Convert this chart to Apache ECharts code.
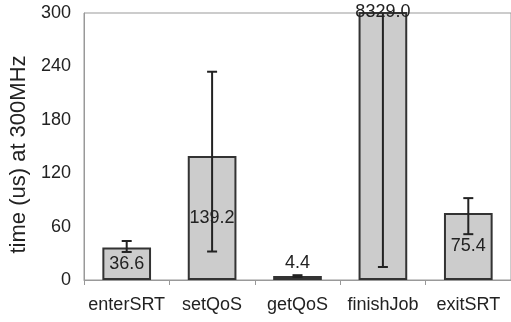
<!DOCTYPE html>
<html><head><meta charset="utf-8">
<script src="https://cdn.jsdelivr.net/npm/echarts@6/dist/echarts.min.js"></script>
<style>html,body{margin:0;padding:0;background:#fff}#c{width:511px;height:322px}</style>
</head><body><div id="c"></div>
<script>
const categories = ['enterSRT', 'setQoS', 'getQoS', 'finishJob', 'exitSRT'];
const values = [36.6, 139.2, 4.4, 8329.0, 75.4];
const errLow = [31.5, 32, 3.4, 14.6, 51.5];
const errHigh = [43.8, 234, 5.4, 16000, 92];
const yTicks = [0, 60, 120, 180, 240, 300];

const font = 'Liberation Sans, Arial, sans-serif';
const chart = echarts.init(document.getElementById('c'));
const barData = values.map((v, i) => {
  const d = { value: v };
  if (i === 2) d.label = { position: 'top', distance: 4 };
  if (i === 3) d.label = { position: ['50%', 0], align: 'center', verticalAlign: 'middle' };
  return d;
});
chart.setOption({
  animation: false,
  grid: { left: 83, top: 13, right: -2, bottom: 42, show: true, borderColor: '#999', borderWidth: 1 },
  xAxis: {
    type: 'category', data: categories,
    axisLine: { lineStyle: { color: '#999', width: 1 } },
    axisTick: { show: true, length: 5, lineStyle: { color: '#999' } },
    axisLabel: { color: '#222', fontSize: 18, fontFamily: font, margin: 16, interval: 0 }
  },
  yAxis: {
    type: 'value', min: yTicks[0], max: yTicks[yTicks.length - 1], interval: 60,
    name: 'time (us) at 300MHz', nameLocation: 'middle', nameGap: 54,
    nameTextStyle: { color: '#222', fontSize: 22, fontFamily: font, padding: [0, 16, 0, 0] },
    axisLine: { show: true, lineStyle: { color: '#999' } },
    axisTick: { show: false },
    splitLine: { show: false },
    axisLabel: { color: '#222', fontSize: 18, fontFamily: font, margin: 13 }
  },
  series: [{
    type: 'bar', data: barData, barWidth: '57%', clip: true,
    itemStyle: { color: '#cccccc', borderColor: '#333', borderWidth: 2 },
    label: { show: true, position: 'inside', color: '#222', fontSize: 18, fontFamily: font,
      formatter: p => p.value.toFixed(1) }
  }, {
    type: 'custom', clip: true, z: 5,
    data: categories.map((c, i) => [i, errLow[i], errHigh[i]]),
    renderItem: function (params, api) {
      const x = api.value(0);
      const lo = api.coord([x, api.value(1)]);
      const hi = api.coord([x, api.value(2)]);
      const hw = 5;
      const st = { stroke: '#222', lineWidth: 2 };
      return { type: 'group', children: [
        { type: 'line', shape: { x1: lo[0], y1: lo[1], x2: hi[0], y2: hi[1] }, style: st },
        { type: 'line', shape: { x1: lo[0] - hw, y1: lo[1], x2: lo[0] + hw, y2: lo[1] }, style: st },
        { type: 'line', shape: { x1: hi[0] - hw, y1: hi[1], x2: hi[0] + hw, y2: hi[1] }, style: st }
      ]};
    }
  }]
});
</script></body></html>
